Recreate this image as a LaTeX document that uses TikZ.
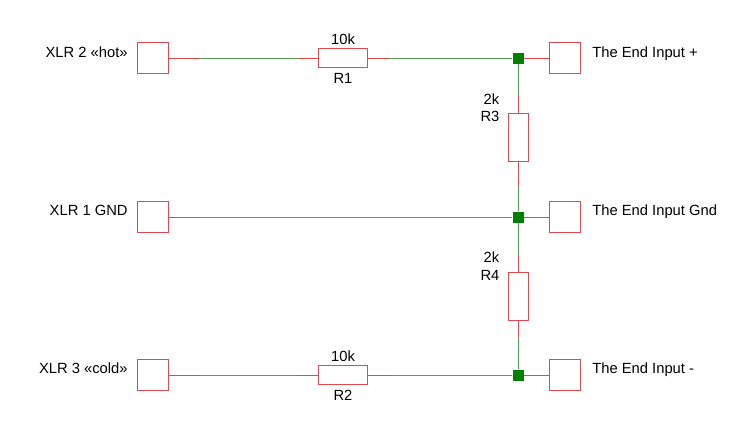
\documentclass[tikz,border=0pt]{standalone}
\usepackage{fontspec}
\setmainfont{Liberation Sans}
\usepackage{tikz}
\usetikzlibrary{calc}
\definecolor{pinred}{RGB}{226,72,80}
\definecolor{wiregreen}{RGB}{86,160,86}
\definecolor{dotgreen}{RGB}{0,128,0}

\begin{document}
\begin{tikzpicture}[x=0.02cm,y=-0.02cm,font=\fontsize{8.4}{10}\selectfont,
	pin/.style={draw=pinred,fill=white,minimum size=0.62cm,inner sep=0pt},
	resh/.style={draw=pinred,fill=white,minimum width=0.98cm,minimum height=0.38cm,inner sep=0pt},
	resv/.style={draw=pinred,fill=white,minimum width=0.4cm,minimum height=0.96cm,inner sep=0pt},
	dot/.style={fill=dotgreen,minimum size=0.22cm,inner sep=0pt},
	txt/.style={inner sep=0pt},
	redw/.style={draw=pinred,line width=0.5pt},
	greenw/.style={draw=wiregreen,line width=0.5pt}]
	\useasboundingbox (0,0) rectangle (750,433);
	% connector pins
	\node[pin] (xlrhot) at (152.5,58) {};
	\node[pin] (xlrgnd) at (152.5,217) {};
	\node[pin] (xlrcold) at (152.5,375) {};
	\node[pin] (endplus) at (565,58) {};
	\node[pin] (endgnd) at (565,217) {};
	\node[pin] (endminus) at (565,375) {};
	\node[txt,anchor=base east] (lhot) at (128,57) {XLR 2 «hot»};
	\node[txt,anchor=base east] (lgnd) at (128,215) {XLR 1 GND};
	\node[txt,anchor=base east] (lcold) at (128,373) {XLR 3 «cold»};
	\node[txt,anchor=base west] (lplus) at (592,57) {The End Input +};
	\node[txt,anchor=base west] (lendgnd) at (592,215) {The End Input Gnd};
	\node[txt,anchor=base west] (lminus) at (592,373) {The End Input -};
	% resistors
	\node[resh] (r1) at (343,58) {};
	\node[resh] (r2) at (343,375) {};
	\node[resv] (r3) at (518,137) {};
	\node[resv] (r4) at (518,296) {};
	\node[txt,anchor=base] (v1) at (343,44) {10k};
	\node[txt,anchor=base] (n1) at (343,83) {R1};
	\node[txt,anchor=base] (v2) at (343,361) {10k};
	\node[txt,anchor=base] (n2) at (343,400) {R2};
	\node[txt,anchor=base] (v3) at (491.5,104) {2k};
	\node[txt,anchor=base] (n3) at (490,121.5) {R3};
	\node[txt,anchor=base] (v4) at (491.5,262.5) {2k};
	\node[txt,anchor=base] (n4) at (490,280) {R4};
	% junctions
	\node[dot] (jtop) at (518,58) {};
	\node[dot] (jmid) at (518,217) {};
	\node[dot] (jbot) at (518,375) {};
	% wire bends
	\coordinate (a1) at (200,58);
	\coordinate (a2) at (297,58);
	\coordinate (a3) at (390,58);
	\coordinate (b1) at (200,217);
	\coordinate (c1) at (200,375);
	\coordinate (c2) at (297,375);
	\coordinate (c3) at (390,375);
	\coordinate (d1) at (518,95);
	\coordinate (d2) at (518,187);
	\coordinate (d3) at (518,255);
	\coordinate (d4) at (518,337);
	% top row
	\draw[redw] (xlrhot)--(a1);
	\draw[greenw] (a1)--(a2);
	\draw[redw] (a2)--(r1);
	\draw[redw] (r1)--(a3);
	\draw[greenw] (a3)--(jtop);
	\draw[redw] (jtop)--(endplus);
	% middle row
	\draw[redw] (xlrgnd)--(b1);
	\draw[greenw] (b1)--(jmid);
	\draw[redw] (jmid)--(endgnd);
	% bottom row
	\draw[redw] (xlrcold)--(c1);
	\draw[greenw] (c1)--(c2);
	\draw[redw] (c2)--(r2);
	\draw[redw] (r2)--(c3);
	\draw[greenw] (c3)--(jbot);
	\draw[redw] (jbot)--(endminus);
	% divider
	\draw[greenw] (jtop)--(d1);
	\draw[redw] (d1)--(r3);
	\draw[redw] (r3)--(d2);
	\draw[greenw] (d2)--(jmid);
	\draw[greenw] (jmid)--(d3);
	\draw[redw] (d3)--(r4);
	\draw[redw] (r4)--(d4);
	\draw[greenw] (d4)--(jbot);
\end{tikzpicture}
\end{document}
